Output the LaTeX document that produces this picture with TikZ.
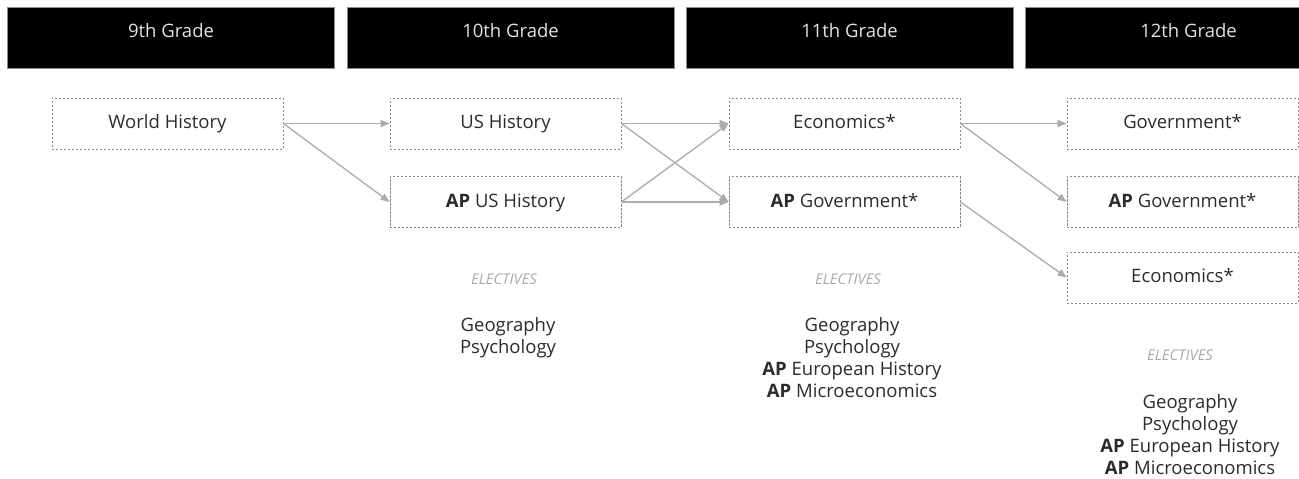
\documentclass[tikz,border=0pt]{standalone}
\usepackage{fontspec}
\setmainfont{Open Sans}
\usetikzlibrary{arrows.meta}
\definecolor{arrowgray}{HTML}{ABABAB}
\definecolor{boxgray}{HTML}{8A8A8A}
\definecolor{headtext}{HTML}{E2E2E2}
\definecolor{headedge}{HTML}{8C8C8C}
\definecolor{bodytext}{HTML}{2B2B2B}
\definecolor{electgray}{HTML}{A8A8A8}
\tikzset{
  header/.style={fill=black, draw=headedge, line width=0.7pt,
    minimum width=327pt, minimum height=61pt, inner sep=0pt,
    text height=8pt, text depth=8pt,
    text=headtext, font=\fontsize{18.5}{22}\selectfont},
  course/.style={draw=boxgray, dash pattern=on 2.4pt off 1.6pt, line width=0.8pt,
    minimum width=231pt, minimum height=51pt, inner sep=0pt,
    text height=14.5pt, text depth=4.3pt,
    text=bodytext, font=\fontsize{18.5}{22}\selectfont},
  electhead/.style={text=electgray, font=\fontsize{14.8}{17}\selectfont\itshape, inner sep=0pt},
  electlist/.style={text=bodytext, align=center, inner sep=0pt,
    font=\fontsize{18.5}{22}\selectfont},
  conn/.style={draw=arrowgray, line width=1.3pt, -{Triangle[length=9pt,width=7pt]}}
}
\begin{document}
\begin{tikzpicture}[x=1pt,y=-1pt]
\useasboundingbox (0,0) rectangle (1299,479);
% headers
\node[header] (h9)  at (171,37.5) {9th Grade};
\node[header] (h10) at (510.5,37.5) {10th Grade};
\node[header] (h11) at (849.5,37.5) {11th Grade};
\node[header] (h12) at (1188.5,37.5) {12th Grade};
% courses
\node[course] (wh)    at (167.5,123.5) {World History};
\node[course] (ush)   at (505.5,123.5) {US History};
\node[course] (apush) at (505.5,202) {\textbf{AP} US History};
\node[course] (eco)   at (844.5,123.5) {Economics*};
\node[course] (apgov) at (844.5,202) {\textbf{AP} Government*};
\node[course] (gov)   at (1182.5,123.5) {Government*};
\node[course] (apgovb) at (1182.5,202) {\textbf{AP} Government*};
\node[course] (ecob)  at (1182.5,277.5) {Economics*};
% electives
\node[electhead] (e10) at (504,279) {ELECTIVES};
\node[electlist, anchor=north] (l10) at (508,317) {Geography\\Psychology};
\node[electhead] (e11) at (848,279) {ELECTIVES};
\node[electlist, anchor=north] (l11) at (852,317) {Geography\\Psychology\\\textbf{AP} European History\\\textbf{AP} Microeconomics};
\node[electhead] (e12) at (1180,355) {ELECTIVES};
\node[electlist, anchor=north] (l12) at (1190,394) {Geography\\Psychology\\\textbf{AP} European History\\\textbf{AP} Microeconomics};
% connectors
\draw[conn] (wh.east) -- (ush.west);
\draw[conn] (wh.east) -- (apush.west);
\draw[conn] (ush.east) -- (eco.west);
\draw[conn] (ush.east) -- (apgov.west);
\draw[conn] (apush.east) -- (eco.west);
\draw[conn] (apush.east) -- (apgov.west);
\draw[conn] (eco.east) -- (gov.west);
\draw[conn] (eco.east) -- (apgovb.west);
\draw[conn] (apgov.east) -- (ecob.west);
\end{tikzpicture}
\end{document}
